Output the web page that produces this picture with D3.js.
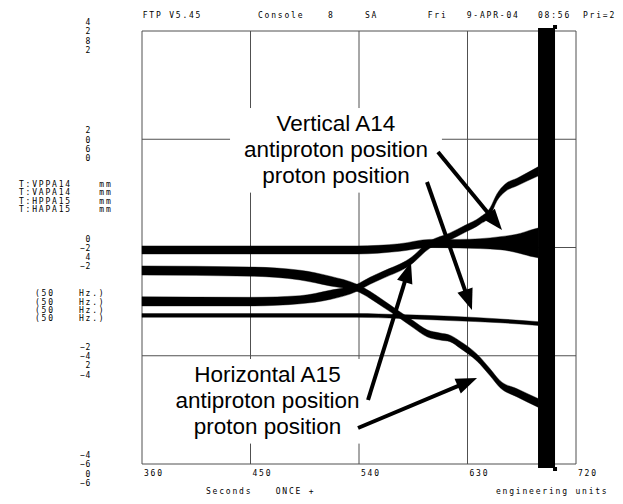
<!DOCTYPE html>
<html>
<head>
<meta charset="utf-8">
<script src="https://cdn.jsdelivr.net/npm/d3@7"></script>
<style>
  html, body { margin: 0; padding: 0; background: #fff; }
  svg { display: block; }
  .mono { font-family: "DejaVu Sans Mono", monospace; font-size: 8px; letter-spacing: 1.8px; fill: #000; }
  .note { font-family: "Liberation Sans", Arial, sans-serif; font-size: 22.5px; fill: #000; }
</style>
</head>
<body>
<svg id="chart" width="623" height="504"></svg>
<script>
// ---------------- data ----------------
const headerLabels = ["FTP V5.45", "Console", "8", "SA", "Fri", "9-APR-04", "08:56", "Pri=2"];
const seriesNames = ["T:VPPA14", "T:VAPA14", "T:HPPA15", "T:HAPA15"];
const seriesUnits = ["mm", "mm", "mm", "mm"];
const seriesRates = ["(50", "(50", "(50", "(50"];
const seriesDomains = [[-4, 4], [-6, 2], [0, 8], [-6, 2]];
const timeDomain = [360, 720];
const timeTicks = [360, 450, 540, 630, 720];
const footerLabels = ["Seconds", "ONCE +", "engineering units"];
const cursorTimes = [688.5, 702.6];

// Vertical A14 proton (VPPA14) - envelope of the noisy trace
const vppaTime = [360, 449.6, 538.3, 573.8, 615.5, 657, 688.5];
const vppaHigh = [-1.22, -1.22, -1.22, -1.24, -1.27, -1.32, -1.37];
const vppaLow  = [-1.29, -1.29, -1.29, -1.31, -1.35, -1.39, -1.44];

// Vertical A14 antiproton (VAPA14)
const vapaTime = [360, 449.6, 538.3, 573.8, 598.9, 623.8, 657, 673.6, 681.9, 688.5];
const vapaHigh = [-1.97, -1.97, -1.97, -1.93, -1.85, -1.85, -1.80, -1.74, -1.68, -1.64];
const vapaLow  = [-2.12, -2.12, -2.12, -2.07, -2.00, -2.01, -2.04, -2.11, -2.16, -2.19];

// Horizontal A15 proton (HPPA15)
const hppaTime = [360, 449.6, 491.1, 516, 538.3, 549.1, 559.9, 571.5, 584.8, 596.4, 607.2, 615.5, 623.8, 637.9, 648.7, 657, 671.1, 688.5];
const hppaHigh = [3.66, 3.64, 3.58, 3.47, 3.32, 3.19, 3.03, 2.85, 2.65, 2.48, 2.42, 2.38, 2.27, 2.03, 1.76, 1.54, 1.39, 1.21];
const hppaLow  = [3.49, 3.47, 3.40, 3.29, 3.19, 3.06, 2.90, 2.73, 2.52, 2.35, 2.29, 2.26, 2.14, 1.90, 1.63, 1.41, 1.24, 1.05];

// Horizontal A15 antiproton (HAPA15)
const hapaTime = [360, 449.6, 491.1, 516, 538.3, 549.1, 559.9, 582.3, 598.9, 615.5, 628, 640.4, 648.7, 654.4, 661.1, 671.1, 688.5];
const hapaHigh = [-2.91, -2.92, -2.89, -2.79, -2.68, -2.55, -2.44, -2.20, -1.88, -1.73, -1.59, -1.44, -1.27, -1.01, -0.83, -0.72, -0.51];
const hapaLow  = [-3.08, -3.08, -3.04, -2.96, -2.81, -2.68, -2.57, -2.33, -2.01, -1.86, -1.72, -1.57, -1.42, -1.14, -0.97, -0.86, -0.68];

// Annotations (time in s, position in VPPA14 units)
const noteTitles = ["Vertical A14", "Horizontal A15"];
const noteLines = ["antiproton position", "proton position"];
const noteAnchors = [[520.9, 2.152], [464.1, -2.485]];
const arrowFrom = [[605.5, 1.764], [596.4, 1.210], [547.5, -2.818], [539.2, -3.335]];
const arrowTo   = [[658.6, 0.323], [633.7, -1.155], [583.1, -0.268], [637.9, -2.411]];

// ---------------- layout ----------------
const W = 623, H = 504;
const plot = { left: 142, top: 31, width: 434, height: 433 };
const headerX = [142.7, 258, 328, 365, 427.7, 466.7, 538, 583];
const gridColor = "#505050";

const svg = d3.select("#chart");
const x = d3.scaleLinear().domain(timeDomain).range([plot.left, plot.left + plot.width]);
const yScales = seriesDomains.map(d => d3.scaleLinear().domain(d).range([plot.top + plot.height, plot.top]));
const yRef = yScales[0];

// header
svg.append("g").selectAll("text").data(headerLabels).join("text")
  .attr("class", "mono").attr("x", (d, i) => headerX[i]).attr("y", 18.3).text(d => d);

// grid + frame
const grid = svg.append("g");
const yTickVals = yRef.ticks(4);
grid.selectAll("line.v").data(timeTicks).join("line")
  .attr("x1", d => x(d)).attr("x2", d => x(d))
  .attr("y1", plot.top).attr("y2", plot.top + plot.height)
  .attr("stroke", gridColor).attr("stroke-width", 1);
grid.selectAll("line.h").data(yTickVals).join("line")
  .attr("x1", plot.left).attr("x2", plot.left + plot.width)
  .attr("y1", d => yRef(d)).attr("y2", d => yRef(d))
  .attr("stroke", gridColor).attr("stroke-width", 1);

// left stacked tick labels (one value per series)
const leftG = svg.append("g");
yTickVals.forEach((tv, k) => {
  const py = yRef(tv);
  yScales.forEach((ys, si) => {
    const val = ys.ticks(4)[k];
    leftG.append("text").attr("class", "mono")
      .attr("x", 91).attr("y", py - 9 + si * 9.3 + 3)
      .attr("text-anchor", "end").style("letter-spacing", "0.6px")
      .text(d3.format("d")(val));
  });
});

// series labels
const labG = svg.append("g");
seriesNames.forEach((n, i) => {
  const yy = 183.5 + i * 8.5 + 3;
  labG.append("text").attr("class", "mono").attr("x", 19).attr("y", yy).text(n);
  labG.append("text").attr("class", "mono").attr("x", 99.3).attr("y", yy).text(seriesUnits[i]);
  const yh = 293.3 + i * 8.3 + 3;
  labG.append("text").attr("class", "mono").attr("x", 35).attr("y", yh).text(seriesRates[i]);
  labG.append("text").attr("class", "mono").attr("x", 79).attr("y", yh).text("Hz.)");
});

// bottom axis labels
svg.append("g").selectAll("text").data(timeTicks).join("text")
  .attr("class", "mono").attr("x", d => x(d) + 2).attr("y", 475.5).text(d => d);
const footX = [206, 275.7, 496];
svg.append("g").selectAll("text").data(footerLabels).join("text")
  .attr("class", "mono").attr("x", (d, i) => footX[i]).attr("y", 493.5).text(d => d);

// traces
const traces = [
  { t: vppaTime, hi: vppaHigh, lo: vppaLow, ys: yScales[0] },
  { t: vapaTime, hi: vapaHigh, lo: vapaLow, ys: yScales[1] },
  { t: hppaTime, hi: hppaHigh, lo: hppaLow, ys: yScales[2] },
  { t: hapaTime, hi: hapaHigh, lo: hapaLow, ys: yScales[3] }
];
const traceG = svg.append("g");
traces.forEach(tr => {
  const pts = tr.t.map((t, i) => ({ t, hi: tr.hi[i], lo: tr.lo[i] }));
  const area = d3.area().curve(d3.curveMonotoneX)
    .x(d => x(d.t)).y0(d => tr.ys(d.lo)).y1(d => tr.ys(d.hi));
  traceG.append("path").datum(pts).attr("d", area)
    .attr("fill", "#000").attr("stroke", "#000").attr("stroke-width", 0.4).attr("stroke-linejoin", "round");
});

// annotation boxes + text
const noteG = svg.append("g");
noteTitles.forEach((title, i) => {
  const cx = x(noteAnchors[i][0]);
  const by = yRef(noteAnchors[i][1]);
  const g = noteG.append("g");
  const rect = g.append("rect").attr("fill", "#fff");
  const txt = g.append("text").attr("class", "note").attr("text-anchor", "middle");
  [title].concat(noteLines).forEach((ln, k) => {
    txt.append("tspan").attr("x", cx).attr("y", by + k * 25.8).text(ln);
  });
  const bb = txt.node().getBBox();
  rect.attr("x", bb.x - 14).attr("y", bb.y - 3).attr("width", bb.width + 28).attr("height", bb.height + 8);
});

// arrows
const arrowG = svg.append("g");
arrowFrom.forEach((f, i) => {
  const x1 = x(f[0]), y1 = yRef(f[1]);
  const x2 = x(arrowTo[i][0]), y2 = yRef(arrowTo[i][1]);
  const dx = x2 - x1, dy = y2 - y1, len = Math.hypot(dx, dy);
  const ux = dx / len, uy = dy / len;
  const hl = 21, hw = 8;
  const bx = x2 - ux * hl, by = y2 - uy * hl;
  arrowG.append("line").attr("x1", x1).attr("y1", y1).attr("x2", bx + ux * 2).attr("y2", by + uy * 2)
    .attr("stroke", "#000").attr("stroke-width", 4);
  arrowG.append("path")
    .attr("d", `M${x2},${y2}L${bx - uy * hw},${by + ux * hw}L${bx + uy * hw},${by - ux * hw}Z`)
    .attr("fill", "#000");
});

// cursor bar
const cx0 = x(cursorTimes[0]), cx1 = x(cursorTimes[1]);
svg.append("rect").attr("x", cx0).attr("y", 28).attr("width", cx1 - cx0).attr("height", 440).attr("fill", "#000");
svg.append("rect").attr("x", cx1 - 2).attr("y", 25).attr("width", 4).attr("height", 4).attr("fill", "#000");
svg.append("rect").attr("x", cx1 - 2).attr("y", 467).attr("width", 4).attr("height", 4).attr("fill", "#000");
</script>
</body>
</html>
